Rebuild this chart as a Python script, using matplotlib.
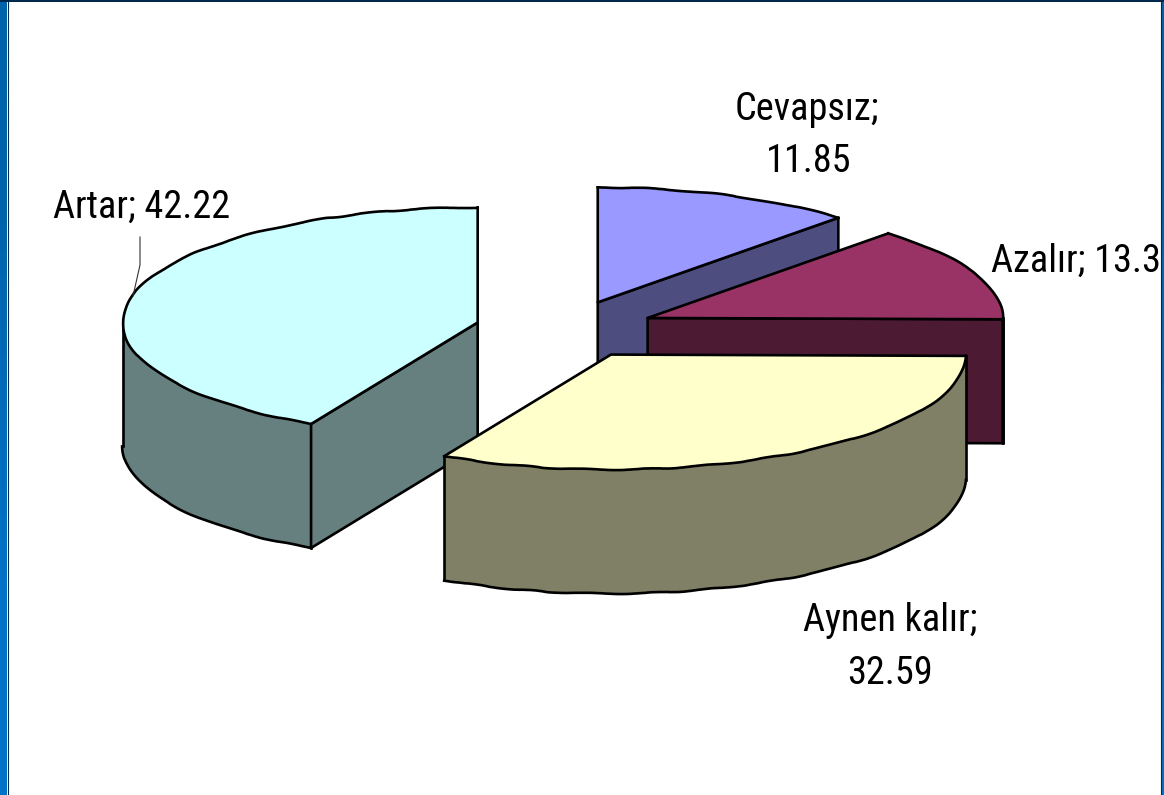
import numpy as np
import matplotlib
matplotlib.use("Agg")
import matplotlib.pyplot as plt
from matplotlib.patches import Polygon

# data, clockwise from north
names = ["Cevapsız", "Azalır", "Aynen kalır", "Artar"]
values = [11.85, 13.33, 32.59, 42.22]
value_labels = ["11.85", "13.33", "32.59", "42.22"]

top_colors = ["#9999FF", "#993366", "#FFFFCC", "#CCFFFF"]
side_colors = ["#4D4D80", "#4D1A33", "#808066", "#668080"]

# layout (pixels)
W, H = 1164, 795
CX, CY = 565, 329.5
RX, RY = 355, 115
DEPTH = 124
EXPLODE = 90
LW = 1.9
draw_order = [0, 1, 3, 2]

fig = plt.figure(figsize=(W / 100, H / 100), dpi=100)
ax = fig.add_axes([0, 0, 1, 1])
ax.set_xlim(0, W)
ax.set_ylim(H, 0)
ax.axis("off")


def rim(apex, a_deg):
    a = np.radians(a_deg)
    return apex[0] + RX * np.sin(a), apex[1] - RY * np.cos(a)


def wavy(xy, z):
    line, = ax.plot(xy[:, 0], xy[:, 1], color="black", lw=LW, zorder=z)
    line.set_sketch_params(scale=0.55, length=85, randomness=4)


total = sum(values)
edges = np.concatenate([[0], np.cumsum(values)]) / total * 360


def cut_wall(apex, angle, color, z):
    pts = [apex, rim(apex, angle)]
    down = [(x, y + DEPTH) for x, y in pts[::-1]]
    ax.add_patch(Polygon(pts + down, closed=True, fc=color, ec="black",
                         lw=LW, joinstyle="round", zorder=z))


for k, i in enumerate(draw_order):
    start, end = edges[i], edges[i + 1]
    mid = np.radians((start + end) / 2)
    apex = (CX + EXPLODE * np.sin(mid), CY - EXPLODE * np.cos(mid) * RY / RX)
    z = 2 + k * 3

    # outer wall, front half only
    lo, hi = max(start, 90), min(end, 270)
    if lo < hi:
        arc = np.array([rim(apex, a) for a in np.linspace(lo, hi, 100)])
        low = arc + [0, DEPTH]
        ax.add_patch(Polygon(np.vstack([arc, low[::-1]]), closed=True,
                             fc=side_colors[i], ec="none", zorder=z))
        wavy(low, z)
        for p, q in ((arc[0], low[0]), (arc[-1], low[-1])):
            ax.plot([p[0], q[0]], [p[1], q[1]], color="black", lw=LW, zorder=z)
    # cut walls that face the viewer
    if 0 < end < 180:
        cut_wall(apex, end, side_colors[i], z)
    if 180 < start < 360:
        cut_wall(apex, start, side_colors[i], z)

    # top face
    arc = np.array([rim(apex, a) for a in np.linspace(start, end, 120)])
    ax.add_patch(Polygon(np.vstack([[apex], arc]), closed=True,
                         fc=top_colors[i], ec="none", zorder=z + 1))
    ax.plot([arc[0, 0], apex[0], arc[-1, 0]], [arc[0, 1], apex[1], arc[-1, 1]],
            color="black", lw=LW, zorder=z + 2, solid_joinstyle="round")
    wavy(arc, z + 2)

# leader line of Artar
ax.plot([140, 140, 133], [237, 265, 296], color="#333333", lw=0.8, zorder=30)

# labels
font = dict(family=["Roboto Condensed", "Liberation Sans"], fontsize=27.5,
            color="black", zorder=30, va="baseline")
ax.text(807, 120, names[0] + ";", ha="center", **font)
ax.text(809, 172, value_labels[0], ha="center", **font)
ax.text(991, 272, names[1] + "; " + value_labels[1], ha="left", **font)
ax.text(890, 631, names[2] + ";", ha="center", **font)
ax.text(890, 684, value_labels[2], ha="center", **font)
ax.text(53, 218, names[3] + "; " + value_labels[3], ha="left", **font)

# slide frame
grad = np.array([[0, 100, 170], [0, 115, 200]], dtype=float)[:, None, :] / 255
ax.imshow(grad, extent=(0, 7, H, 0), aspect="auto", zorder=40, interpolation="bilinear")
ax.imshow(grad, extent=(1161, W, H, 0), aspect="auto", zorder=40, interpolation="bilinear")
ax.set_xlim(0, W)
ax.set_ylim(H, 0)
for x in (7.5, 1160.5):
    ax.plot([x, x], [0, H], color="#00284d", lw=0.8, zorder=41)
ax.fill_between([0, W], 0, 2, color="#00284d", lw=0, zorder=42)

fig.savefig("out.png", dpi=100, facecolor="white")
